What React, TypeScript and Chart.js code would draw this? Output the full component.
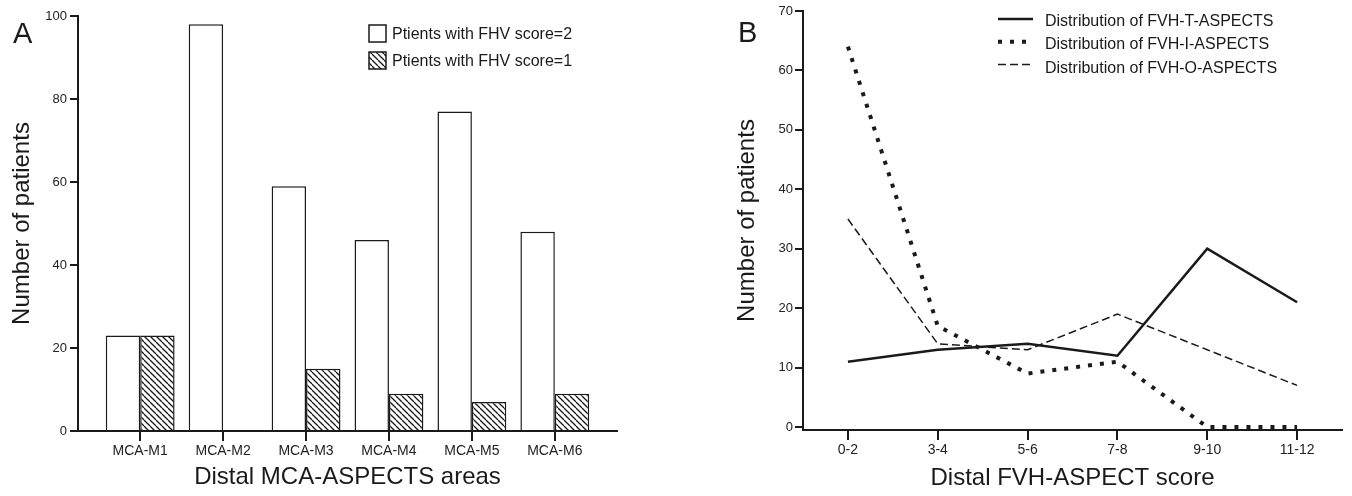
import React, { useEffect, useRef, useState } from 'react';
import { Chart, registerables } from 'chart.js';

Chart.register(...registerables);
Chart.defaults.font.family = '"Liberation Sans", Arial, Helvetica, sans-serif';

// ---------- Panel A data ----------
const areaLabels = ['MCA-M1', 'MCA-M2', 'MCA-M3', 'MCA-M4', 'MCA-M5', 'MCA-M6'];
const score2Values = [23, 98, 59, 46, 77, 48];
const score1Values = [23, 0, 15, 9, 7, 9];
const score2Label = 'Ptients with FHV score=2';
const score1Label = 'Ptients with FHV score=1';
const leftYTitle = 'Number of patients';
const leftXTitle = 'Distal MCA-ASPECTS areas';

// ---------- Panel B data ----------
const scoreLabels = ['0-2', '3-4', '5-6', '7-8', '9-10', '11-12'];
const tValues = [11, 13, 14, 12, 30, 21];
const iValues = [64, 17, 9, 11, 0, 0];
const oValues = [35, 14, 13, 19, 13, 7];
const tLabel = 'Distribution of FVH-T-ASPECTS';
const iLabel = 'Distribution of FVH-I-ASPECTS';
const oLabel = 'Distribution of FVH-O-ASPECTS';
const rightYTitle = 'Number of patients';
const rightXTitle = 'Distal FVH-ASPECT score';

const INK = '#1a1a1a';
const TICK_TXT = '#222';
const FONT = '"Liberation Sans", Arial, Helvetica, sans-serif';

function makeHatch(): CanvasPattern | string {
  const s = 6;
  const c = document.createElement('canvas');
  c.width = s;
  c.height = s;
  const g = c.getContext('2d');
  if (!g) return '#fff';
  g.fillStyle = '#fff';
  g.fillRect(0, 0, s, s);
  g.strokeStyle = INK;
  g.lineWidth = 1.3;
  for (const k of [-s, 0, s]) {
    g.beginPath();
    g.moveTo(0, k);
    g.lineTo(s, s + k);
    g.stroke();
  }
  return g.createPattern(c, 'repeat') || '#fff';
}

function makeOverlayPlugin(nXTicks: number) {
  return {
    id: 'overlay',
    afterDraw(chart: any, _args: any, opts: any) {
      const ctx: CanvasRenderingContext2D = chart.ctx;
      if (nXTicks > 0) {
        const sx = chart.scales['x'];
        const y0 = chart.chartArea.bottom;
        ctx.save();
        ctx.fillStyle = INK;
        for (let i = 0; i < nXTicks; i++) {
          const px = Math.round(sx.getPixelForValue(i));
          ctx.fillRect(px - 1, y0, 2, 10);
        }
        ctx.restore();
      }
      ctx.save();
      ctx.fillStyle = INK;
      ctx.textBaseline = 'alphabetic';
      ctx.textAlign = 'left';
      ctx.font = `${opts.letterSize}px ${FONT}`;
      ctx.fillText(opts.letter, opts.letterX, opts.letterY);

      ctx.font = `${opts.legendSize}px ${FONT}`;
      chart.data.datasets.forEach((ds: any, i: number) => {
        if (opts.kind === 'box') {
          const y = opts.boxY0 + i * opts.boxDy;
          ctx.fillStyle = ds.backgroundColor;
          ctx.fillRect(opts.boxX, y, opts.boxSize, opts.boxSize);
          ctx.strokeStyle = INK;
          ctx.lineWidth = 1.5;
          ctx.strokeRect(opts.boxX, y, opts.boxSize, opts.boxSize);
        } else {
          const y = opts.lineY0 + i * opts.lineDy;
          ctx.save();
          ctx.strokeStyle = ds.borderColor;
          ctx.lineWidth = ds.borderWidth;
          ctx.setLineDash(ds.borderDash || []);
          ctx.beginPath();
          ctx.moveTo(opts.lineX, y);
          ctx.lineTo(opts.lineX + opts.lineLen, y);
          ctx.stroke();
          ctx.restore();
        }
        ctx.fillStyle = INK;
        ctx.fillText(ds.label, opts.textX, opts.textY0 + i * opts.textDy);
      });
      ctx.restore();
    },
  };
}

function PanelA() {
  const ref = useRef<HTMLCanvasElement>(null);
  const [tickMarks, setTickMarks] = useState<{ xs: number[]; y0: number }>({ xs: [], y0: 0 });
  useEffect(() => {
    if (!ref.current) return;
    const hatch = makeHatch();
    const chart = new Chart(ref.current, {
      type: 'bar',
      data: {
        datasets: [
          {
            label: score2Label,
            data: score2Values.map((v, i) => ({ x: i, y: v })),
            backgroundColor: '#fff',
            borderColor: INK,
            borderWidth: 1.5,
            categoryPercentage: 0.83,
            barPercentage: 1,
          },
          {
            label: score1Label,
            data: score1Values.map((v, i) => ({ x: i, y: v })),
            backgroundColor: hatch as any,
            borderColor: INK,
            borderWidth: 1.5,
            categoryPercentage: 0.83,
            barPercentage: 1,
          },
        ],
      },
      options: {
        animation: false,
        responsive: true,
        maintainAspectRatio: false,
        layout: { padding: { left: 0, right: 59, top: 16, bottom: 0 } },
        plugins: {
          legend: { display: false },
          tooltip: { enabled: false },
          overlay: {
            letter: 'A', letterSize: 29, letterX: 13, letterY: 43,
            legendSize: 16, kind: 'box',
            boxX: 369, boxY0: 25, boxDy: 27, boxSize: 17,
            textX: 392, textY0: 38.5, textDy: 27.5,
          },
        } as any,
        scales: {
          x: {
            type: 'linear',
            min: -0.75,
            max: 5.75,
            offset: false,
            grid: { drawOnChartArea: false, offset: false, tickLength: 10, color: 'rgba(0,0,0,0)', lineWidth: 2 },
            border: { color: INK, width: 2 },
            ticks: {
              stepSize: 1,
              includeBounds: false,
              autoSkip: false,
              maxRotation: 0,
              padding: 2,
              color: TICK_TXT,
              font: { size: 14 },
              callback: (v: any) => areaLabels[v] ?? '',
            },
            title: {
              display: true,
              text: leftXTitle,
              color: INK,
              font: { size: 24 },
              padding: { top: 0, bottom: 4 },
            },
            afterFit: (s: any) => { s.height = 65; },
          } as any,
          y: {
            min: 0,
            max: 100,
            grid: { drawOnChartArea: false, tickLength: 8, color: INK, lineWidth: 2 },
            border: { color: INK, width: 2 },
            ticks: { stepSize: 20, padding: 3, color: TICK_TXT, font: { size: 13 } },
            title: {
              display: true,
              text: leftYTitle,
              color: INK,
              font: { size: 24 },
              padding: { top: 8, bottom: 0 },
            },
            afterFit: (s: any) => { s.width = 78; },
          } as any,
        },
      },
      plugins: [makeOverlayPlugin(areaLabels.length)],
    });
    // tick marks under each category, positioned by the chart's own x scale
    const sx: any = chart.scales['x'];
    setTickMarks({
      xs: areaLabels.map((_, i) => Math.round(sx.getPixelForValue(i))),
      y0: Math.round(chart.chartArea.bottom),
    });
    return () => chart.destroy();
  }, []);
  return (
    <div style={{ position: 'relative', width: 676, height: 496 }}>
      <canvas ref={ref} />
      {tickMarks.xs.map((x, i) => (
        <div
          key={i}
          style={{
            position: 'absolute',
            left: x - 1,
            top: tickMarks.y0,
            width: 2,
            height: 10,
            background: INK,
            pointerEvents: 'none',
          }}
        />
      ))}
    </div>
  );
}

function PanelB() {
  const ref = useRef<HTMLCanvasElement>(null);
  useEffect(() => {
    if (!ref.current) return;
    const chart = new Chart(ref.current, {
      type: 'line',
      data: {
        labels: scoreLabels,
        datasets: [
          { label: tLabel, data: tValues, borderColor: INK, borderWidth: 2.5, borderDash: [], pointRadius: 0, tension: 0, fill: false },
          { label: iLabel, data: iValues, borderColor: INK, borderWidth: 4, borderDash: [4, 8], borderCapStyle: 'butt', pointRadius: 0, tension: 0, fill: false },
          { label: oLabel, data: oValues, borderColor: INK, borderWidth: 1.5, borderDash: [8, 4], pointRadius: 0, tension: 0, fill: false },
        ],
      },
      options: {
        animation: false,
        responsive: true,
        maintainAspectRatio: false,
        layout: { padding: { left: 50, right: 10, top: 11, bottom: 0 } },
        plugins: {
          legend: { display: false },
          tooltip: { enabled: false },
          overlay: {
            letter: 'B', letterSize: 29, letterX: 62, letterY: 42,
            legendSize: 16, kind: 'line',
            lineX: 322, lineLen: 35, lineY0: 19, lineDy: 22.7,
            textX: 369, textY0: 25.6, textDy: 23.5,
          },
        } as any,
        scales: {
          x: {
            type: 'category',
            offset: true,
            grid: { drawOnChartArea: false, offset: false, tickLength: 10, color: INK, lineWidth: 2 },
            border: { color: INK, width: 2 },
            ticks: { autoSkip: false, maxRotation: 0, padding: 2, color: TICK_TXT, font: { size: 14 } },
            title: { display: true, text: rightXTitle, color: INK, font: { size: 24 }, padding: { top: 0, bottom: 3 } },
            afterFit: (s: any) => { s.height = 66; },
          } as any,
          y: {
            min: -0.5,
            max: 70,
            grid: { drawOnChartArea: false, tickLength: 8, color: INK, lineWidth: 2 },
            border: { color: INK, width: 2 },
            ticks: { stepSize: 10, includeBounds: false, padding: 2, color: TICK_TXT, font: { size: 13 } },
            title: { display: true, text: rightYTitle, color: INK, font: { size: 24 }, padding: { top: 7, bottom: 0 } },
            afterFit: (s: any) => { s.width = 77; },
          } as any,
        },
      },
      plugins: [makeOverlayPlugin(0)],
    });
    return () => chart.destroy();
  }, []);
  return (
    <div style={{ position: 'relative', width: 676, height: 496 }}>
      <canvas ref={ref} />
    </div>
  );
}

export default function App() {
  return (
    <div style={{ position: 'absolute', left: 0, top: 0, width: 1352, height: 496, display: 'flex', background: '#fff', overflow: 'hidden' }}>
      <PanelA />
      <PanelB />
    </div>
  );
}
